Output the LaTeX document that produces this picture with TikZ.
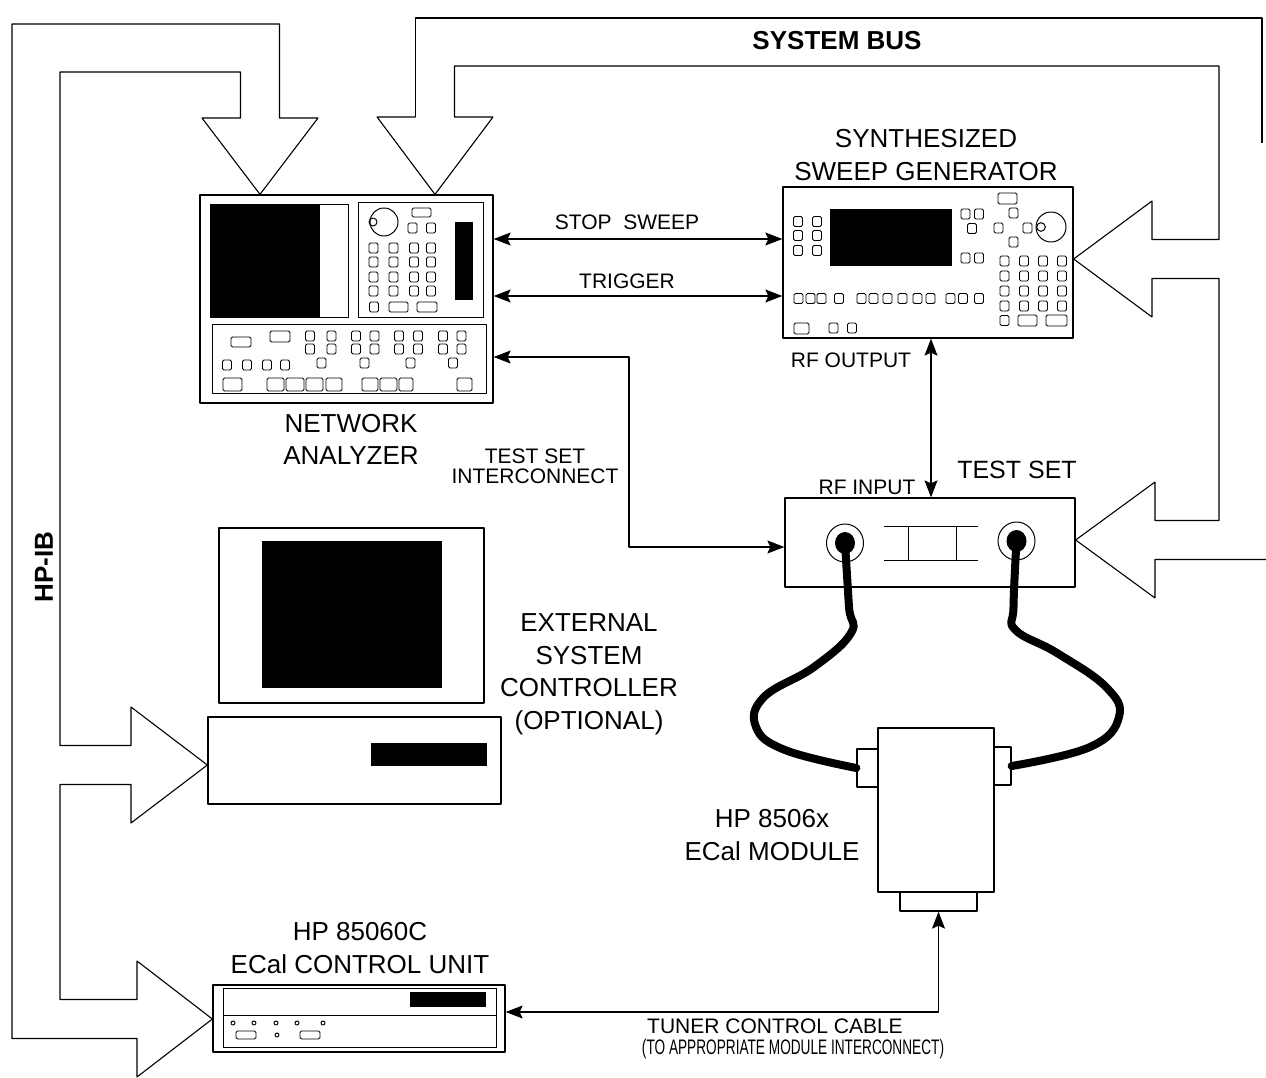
\documentclass[tikz,border=0pt]{standalone}
\usepackage{fontspec}
\usepackage{graphicx}
\setmainfont{Liberation Sans}
\usetikzlibrary{arrows.meta,shapes.geometric}
\begin{document}
\begin{tikzpicture}[x=1pt,y=-1pt,>={Stealth[length=17pt,width=13pt,inset=3pt]},line join=round,line width=1pt,
	device/.style={draw,line width=1.3pt,inner sep=0pt},
	pad/.style={line width=0.9pt,rounded corners=1.5pt},
	bus/.style={line width=1.1pt},
	wire/.style={line width=1.1pt},
	cable/.style={line width=8pt,line cap=round},
	lbl/.style={inner sep=0pt,align=center,font=\fontsize{26}{32.5}\selectfont},
	sml/.style={inner sep=0pt,align=center,font=\fontsize{21}{20}\selectfont}]
	\useasboundingbox (0,0) rectangle (1266,1078);
	\clip (0,0) rectangle (1266,1078);
	\def\btn(#1,#2){\draw[pad] (#1-4.5,#2-5) rectangle ++(9,10);}
	% instruments
	\node[device,minimum width=293pt,minimum height=208pt] (na) at (346.5,299) {};
	\node[device,minimum width=290pt,minimum height=151pt] (sg) at (928,262.5) {};
	\node[device,minimum width=290pt,minimum height=89pt] (ts) at (930,542.5) {};
	\node[device,minimum width=265pt,minimum height=175pt] (mon) at (351.5,615.5) {};
	\node[device,minimum width=293pt,minimum height=87pt] (pc) at (354.5,760.5) {};
	\node[device,minimum width=292pt,minimum height=67pt] (cu) at (359,1018.5) {};
	\node[device,minimum width=21pt,minimum height=38pt] (ecall) at (867.5,768) {};
	\node[device,minimum width=17pt,minimum height=38pt] (ecalr) at (1002.5,766) {};
	\node[device,minimum width=77pt,minimum height=19pt] (ecalport) at (938.5,901.5) {};
	\node[device,fill=white,minimum width=116pt,minimum height=164pt] (ecal) at (936,810) {};
	% network analyzer front
	\fill (210,205) rectangle (320,317);
	\draw (210,205) rectangle (348,317);
	\draw (358,203) rectangle (483,317);
	\draw (384,222) circle (14pt);
	\draw (373,222) circle (4pt);
	\draw[pad] (412,208) rectangle (431,217);
	\btn(412.5,228) \btn(431,228)
	\foreach \x in {373.5,393.5,414,431} \foreach \y in {248,262,277,291} {\btn(\x,\y)}
	\btn(374,307)
	\draw[pad] (389,302) rectangle (408,312);
	\draw[pad] (417,302) rectangle (437,312);
	\fill (455,222) rectangle (473,300);
	\draw (212,324) rectangle (486,393);
	\draw[pad] (231,337) rectangle (251,347);
	\draw[pad] (270,331) rectangle (290,342);
	\foreach \x in {310,331.5,356,374.5,399,418,443,461.5} {\btn(\x,336) \btn(\x,349)}
	\foreach \x in {227,247,267,285} {\btn(\x,365)}
	\foreach \x in {321.5,364.5,410.5,453} {\btn(\x,363)}
	\foreach \a/\b in {223/242,267/284,286/304,306/323,326/342,362/378,380/397,399/413,457/472} {\draw[pad] (\a,378) rectangle (\b,391);}
	% sweep generator front
	\fill (830,209) rectangle (952,266);
	\foreach \x in {798,817} \foreach \y in {221.5,235.5,250.5} {\btn(\x,\y)}
	\foreach \x/\y in {965.5/214,979/214,972/228.5,965.5/258,979/258,1013.5/213,998.5/228,1027.5/228,1013.5/242} {\btn(\x,\y)}
	\draw[pad] (998,193) rectangle (1017,204);
	\draw (1051,227) circle (15pt);
	\draw (1041,227) circle (4.3pt);
	\foreach \x in {1004.5,1024,1043,1062} \foreach \y in {261,276,291,306} {\btn(\x,\y)}
	\btn(1004.5,320.5)
	\draw[pad] (1018,315) rectangle (1037,326);
	\draw[pad] (1046,315) rectangle (1067,326);
	\foreach \x in {798.5,810.5,821.5,839,861.5,873.5,887.5,902.5,917.5,930.5,950.5,963,979} {\btn(\x,298.5)}
	\draw[pad] (794,323) rectangle (809,334);
	\btn(833.5,328) \btn(852,328)
	% test set front
	\node[draw,ellipse,minimum width=37pt,minimum height=38pt,inner sep=0pt] (portA) at (845,543) {};
	\node[draw,ellipse,minimum width=37pt,minimum height=38pt,inner sep=0pt] (portB) at (1016.5,541) {};
	\fill (portA.center) ellipse (10pt and 11pt);
	\fill (portB.center) ellipse (10pt and 11pt);
	\draw (884,526) -- (978,526) (884,560) -- (978,560) (908,526) -- (908,560) (956,526) -- (956,560);
	% controller and control unit
	\fill (262,541) rectangle (442,688);
	\fill (371,743) rectangle (487,766);
	\draw (223,988) rectangle (496,1047);
	\draw (223,1015) -- (496,1015);
	\fill (410,992) rectangle (486,1007);
	\foreach \x in {233,254,276,297,323} {\draw (\x,1023) circle (2pt);}
	\draw (277,1035) circle (2pt);
	\draw[pad] (236,1031) rectangle (256,1039);
	\draw[pad] (300,1031) rectangle (320,1039);
	% cables
	\draw[cable] plot[smooth,tension=0.7] coordinates {(portA.center) (849,607) (851,633) (814,667) (764,697) (756,727) (785,750) (ecall.west)};
	\draw[cable] plot[smooth,tension=0.7] coordinates {(portB.center) (1013.5,607) (1015.5,630) (1057,653) (1106,687) (1119,717) (1090,747) (ecalr.east)};
	% buses
	\draw[bus] (202,118) -- (260,0 |- na.north) -- (318,118) -- (279.5,118) -- (279.5,24) -- (12,24) -- (12,1038.5) -- (137,1038.5) -- (137,1077) -- (cu.west |- 0,1019) -- (137,961) -- (137,999.5) -- (60,999.5) -- (60,784.5) -- (131,784.5) -- (131,823) -- (pc.west |- 0,765) -- (131,707) -- (131,745.5) -- (60,745.5) -- (60,72) -- (240.5,72) -- (240.5,118) -- cycle;
	\draw[bus] (415.5,117) -- (415.5,18) -- (1262,18) -- (1262,143);
	\draw[bus] (1270,559.5) -- (1155,559.5) -- (1155,598) -- (ts.east |- 0,540) -- (1155,482) -- (1155,520.5) -- (1219,520.5) -- (1219,278.5) -- (1152,278.5) -- (1152,317) -- (sg.east |- 0,259) -- (1152,201) -- (1152,239.5) -- (1219,239.5) -- (1219,66) -- (454.5,66) -- (454.5,117) -- (493,117) -- (435,0 |- na.north) -- (377,117) -- (415.5,117);
	% connectors
	\draw[wire,<->] (na.east |- 0,239) -- (sg.west |- 0,239);
	\draw[wire,<->] (na.east |- 0,296) -- (sg.west |- 0,296);
	\draw[wire,<->] (sg.south -| 931,0) -- (ts.north -| 931,0);
	\draw[wire,<->] (na.east |- 0,357) -- (629,357) -- (629,547) -- (ts.west |- 0,547);
	\draw[wire,<->] (cu.east |- 0,1012) -- (938.5,1012) -- (ecalport.south);
	% labels
	\node[font=\bfseries\fontsize{26}{30}\selectfont,inner sep=0pt] (lbus) at (837,41) {SYSTEM BUS};
	\node[font=\bfseries\fontsize{26}{30}\selectfont,inner sep=0pt,rotate=90] (lhpib) at (44,567) {HP-IB};
	\node[lbl] (lna) at (351,439.5) {NETWORK\\ANALYZER};
	\node[lbl] (lsg) at (926,155) {SYNTHESIZED\\SWEEP GENERATOR};
	\node[lbl] (lpc) at (589,674) {EXTERNAL\\SYSTEM\\CONTROLLER\\(OPTIONAL)};
	\node[lbl] (lecal) at (772,835) {HP 8506x\\ECal MODULE};
	\node[lbl] (lcu) at (360,948) {HP 85060C\\ECal CONTROL UNIT};
	\node[lbl,font=\fontsize{25}{30}\selectfont] (lts) at (1017,470) {TEST SET};
	\node[sml] (lstop) at (627,222) {STOP\ \ SWEEP};
	\node[sml] (ltrig) at (627,281) {TRIGGER};
	\node[sml] (lrfo) at (851,360) {RF OUTPUT};
	\node[sml] (lrfi) at (867,487) {RF INPUT};
	\node[sml] (ltsi) at (535,466) {TEST SET\\INTERCONNECT};
	\node[sml,font=\fontsize{21}{20}\selectfont] (ltun) at (775,1026) {TUNER CONTROL CABLE};
	\node[sml] (ltun2) at (793,1049) {\scalebox{0.65}[1]{(TO APPROPRIATE MODULE INTERCONNECT)}};
\end{tikzpicture}
\end{document}
